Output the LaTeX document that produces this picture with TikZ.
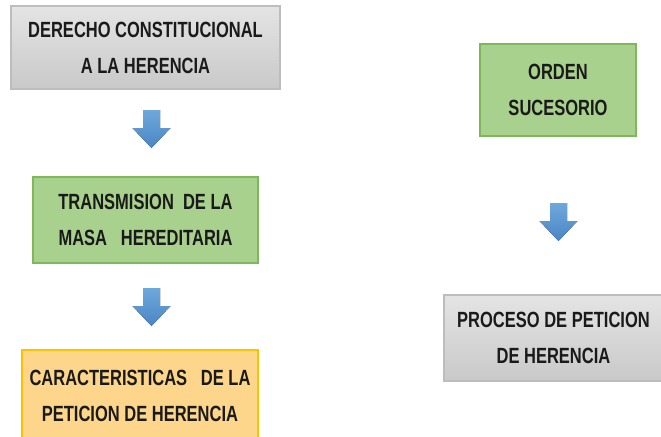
\documentclass[tikz,border=0pt]{standalone}
\usepackage{fontspec}
\setmainfont[FakeStretch=0.75]{Liberation Sans}
\begin{document}
\begin{tikzpicture}[x=0.75pt,y=-0.75pt]
\definecolor{txt}{HTML}{1A1A1A}
\definecolor{graytop}{HTML}{E4E4E4}
\definecolor{graybot}{HTML}{C9C9C9}
\definecolor{grayedge}{HTML}{BDBDBD}
\definecolor{greenfill}{HTML}{A9D18E}
\definecolor{greenedge}{HTML}{7DB85A}
\definecolor{orangefill}{HTML}{FDD68C}
\definecolor{orangeedge}{HTML}{FFC000}
\definecolor{bluetop}{HTML}{6FA8DC}
\definecolor{bluebot}{HTML}{4A86C5}
\tikzset{
  box/.style={draw, line width=1.2pt, inner sep=2pt, align=center, text=txt,
    font=\fontsize{16.5}{27}\selectfont\bfseries},
  graybox/.style={box, draw=grayedge, top color=graytop, bottom color=graybot},
  greenbox/.style={box, draw=greenedge, fill=greenfill},
  orangebox/.style={box, draw=orangeedge, fill=orangefill},
  blockarrow/.style={top color=bluetop, bottom color=bluebot, draw=none},
}
\useasboundingbox (0,0) rectangle (661,436);
\fill[white] (0,0) rectangle (661,436);

\node[graybox, minimum width=269*0.75pt, minimum height=83*0.75pt] (b1) at (145.5,47.5)
  {DERECHO CONSTITUCIONAL\\A LA HERENCIA};
\node[greenbox, minimum width=225*0.75pt, minimum height=86*0.75pt] (b2) at (145.5,220)
  {TRANSMISION\ \ DE LA\\MASA\ \ \ HEREDITARIA};
\node[orangebox, minimum width=236*0.75pt, minimum height=92*0.75pt] (b3) at (140,396)
  {CARACTERISTICAS\ \ \ DE LA\\PETICION\ DE HERENCIA};
\node[greenbox, minimum width=156*0.75pt, minimum height=92*0.75pt] (b4) at (558,90)
  {ORDEN\\SUCESORIO};
\node[graybox, minimum width=219*0.75pt, minimum height=86*0.75pt] (b5) at (553.5,338)
  {PROCESO DE PETICION\\DE HERENCIA};

% block arrows: (cx, top)
\coordinate (a1) at (151.5,110);
\coordinate (a2) at (151.5,288);
\coordinate (a3) at (558.5,203);
\foreach \a in {a1,a2,a3}{
  \fill[blockarrow] ([xshift=-8.5*0.75pt]\a) -- ([xshift=8.5*0.75pt]\a)
    -- ([xshift=8.5*0.75pt,yshift=-18*0.75pt]\a) -- ([xshift=19*0.75pt,yshift=-18*0.75pt]\a)
    -- ([yshift=-38*0.75pt]\a) -- ([xshift=-19*0.75pt,yshift=-18*0.75pt]\a)
    -- ([xshift=-8.5*0.75pt,yshift=-18*0.75pt]\a) -- cycle;
}
\end{tikzpicture}
\end{document}
